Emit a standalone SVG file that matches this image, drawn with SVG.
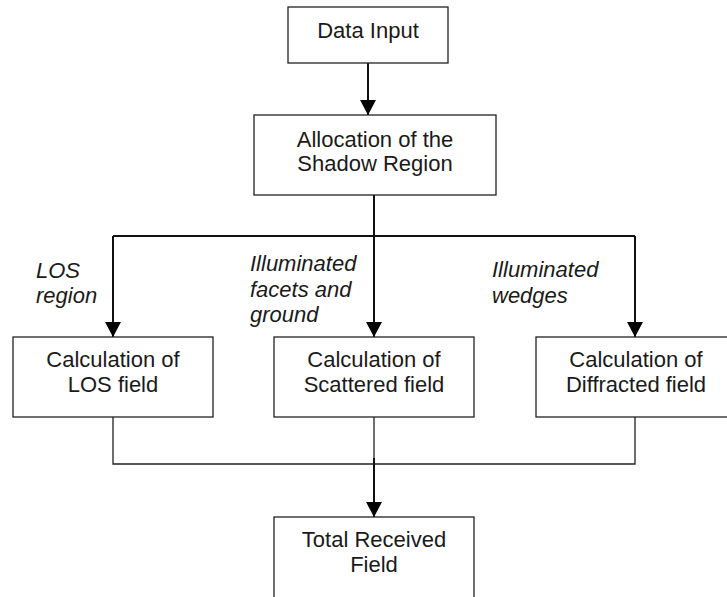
<svg xmlns="http://www.w3.org/2000/svg" width="727" height="597" viewBox="0 0 727 597">
<style>
.box{fill:#fff;stroke:#222;stroke-width:1.3}
.t{font-family:"Liberation Sans",Arial,sans-serif;font-size:22px;fill:#1a1a1a;text-anchor:middle}
.i{font-family:"Liberation Sans",Arial,sans-serif;font-size:22px;font-style:italic;fill:#1a1a1a}
.c{fill:none;stroke:#111;stroke-width:2}
.c1{fill:none;stroke:#222;stroke-width:1.3}
</style>
<defs>
<marker id="ah" viewBox="0 0 15 16" refX="15" refY="8" markerWidth="15" markerHeight="16" markerUnits="userSpaceOnUse" orient="auto">
<path d="M0,0 L15,8 L0,16 Z" fill="#000"/>
</marker>
</defs>
<rect width="727" height="597" fill="#fff"/>
<g id="connectors">
<path class="c" d="M368,63 V115" marker-end="url(#ah)"/>
<path class="c" d="M374,195 V236"/>
<path class="c" d="M113,236 H635"/>
<path class="c" d="M113,236 V337" marker-end="url(#ah)"/>
<path class="c" d="M374,236 V337" marker-end="url(#ah)"/>
<path class="c" d="M635,236 V337" marker-end="url(#ah)"/>
<path class="c1" d="M113,417 V464 H635 V417"/>
<path class="c1" d="M374,417 V464"/>
<path class="c" d="M374,458 V517" marker-end="url(#ah)"/>
</g>
<g id="data-input">
<rect class="box" x="288" y="7" width="160" height="56"/>
<text class="t" x="368" y="38">Data Input</text>
</g>
<g id="allocation">
<rect class="box" x="254" y="115" width="242" height="80"/>
<text class="t" x="375" y="147">Allocation of the</text>
<text class="t" x="375" y="171">Shadow Region</text>
</g>
<g id="label-los">
<text class="i" x="36" y="278">LOS</text>
<text class="i" x="36" y="303">region</text>
</g>
<g id="label-facets">
<text class="i" x="250" y="271">Illuminated</text>
<text class="i" x="250" y="297">facets and</text>
<text class="i" x="250" y="322">ground</text>
</g>
<g id="label-wedges">
<text class="i" x="492" y="277">Illuminated</text>
<text class="i" x="492" y="303">wedges</text>
</g>
<g id="los-field">
<rect class="box" x="13" y="337" width="200" height="80"/>
<text class="t" x="113" y="367">Calculation of</text>
<text class="t" x="113" y="392">LOS field</text>
</g>
<g id="scattered-field">
<rect class="box" x="274" y="337" width="200" height="80"/>
<text class="t" x="374" y="367">Calculation of</text>
<text class="t" x="374" y="392">Scattered field</text>
</g>
<g id="diffracted-field">
<rect class="box" x="536" y="337" width="200" height="80"/>
<text class="t" x="636" y="367">Calculation of</text>
<text class="t" x="636" y="392">Diffracted field</text>
</g>
<g id="total-field">
<rect class="box" x="274" y="517" width="200" height="100"/>
<text class="t" x="374" y="547">Total Received</text>
<text class="t" x="374" y="572">Field</text>
</g>
</svg>
